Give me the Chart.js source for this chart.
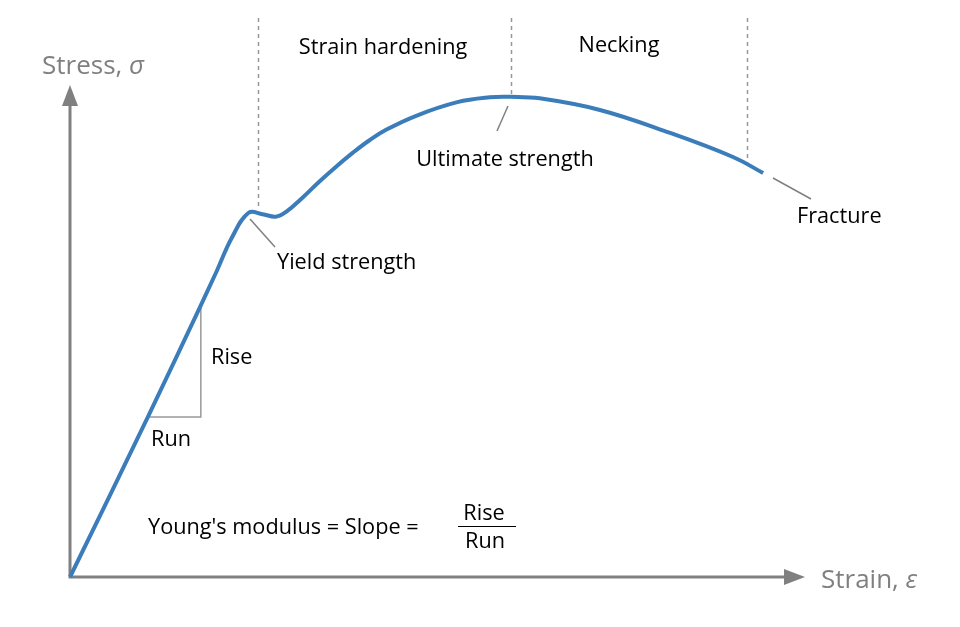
<!DOCTYPE html>
<html>
<head>
<meta charset="utf-8">
<script src="https://cdn.jsdelivr.net/npm/chart.js@4.4.1/dist/chart.umd.min.js"></script>
<style>
  html, body { margin: 0; padding: 0; background: #fff; }
  #wrap { width: 960px; height: 627px; }
</style>
</head>
<body>
<div id="wrap"><canvas id="chart"></canvas></div>
<script>
// strain / stress (arbitrary units, 0..100)
const strain = [0, 10.6, 17.7, 20.0, 22.0, 24.3, 26.2, 28.0, 29.4, 31.7, 33.9, 36.2, 38.5, 40.7, 43.0, 47.1, 52.7, 57.1, 59.9, 63.9, 72.1, 81.2, 90.2, 94.3];
const stress = [0, 33.0, 55.7, 63.2, 69.9, 75.1, 74.8, 74.3, 75.3, 78.3, 81.5, 84.6, 87.5, 90.0, 92.2, 95.1, 97.9, 98.9, 99.0, 98.7, 96.3, 91.8, 86.6, 83.3];

// region boundaries on the strain axis and where each dashed line stops
const boundaries = [25.6, 60.0, 92.1];
const boundaryTops = [76.0, 99.5, 85.0];
// rise / run triangle
const runStrain = [10.8, 17.8];
const riseStress = [33.0, 55.5];

const gray = "#808080";
const font = "'Open Sans', 'Noto Sans', sans-serif";

const overlay = {
  id: "overlay",
  beforeDatasetsDraw(chart) {
    const { ctx, scales: { x, y } } = chart;
    ctx.save();

    // axes with arrows
    const x0 = x.getPixelForValue(0), y0 = y.getPixelForValue(0);
    const xEnd = x.getPixelForValue(100), yEnd = y.getPixelForValue(100) - 7;
    ctx.strokeStyle = gray;
    ctx.fillStyle = gray;
    ctx.lineWidth = 3;
    ctx.beginPath();
    ctx.moveTo(x0, yEnd + 18);
    ctx.lineTo(x0, y0);
    ctx.lineTo(xEnd - 16, y0);
    ctx.stroke();
    ctx.beginPath();
    ctx.moveTo(x0, yEnd);
    ctx.lineTo(x0 - 8, yEnd + 21);
    ctx.lineTo(x0 + 8, yEnd + 21);
    ctx.closePath();
    ctx.fill();
    ctx.beginPath();
    ctx.moveTo(xEnd, y0);
    ctx.lineTo(xEnd - 21, y0 - 8);
    ctx.lineTo(xEnd - 21, y0 + 8);
    ctx.closePath();
    ctx.fill();

    // dashed region boundaries
    ctx.strokeStyle = "#999";
    ctx.lineWidth = 1.5;
    ctx.setLineDash([4, 4]);
    boundaries.forEach((b, i) => {
      const px = Math.round(x.getPixelForValue(b)) + 0.5;
      ctx.beginPath();
      ctx.moveTo(px, 18);
      ctx.lineTo(px, y.getPixelForValue(boundaryTops[i]));
      ctx.stroke();
    });
    ctx.setLineDash([]);

    // rise / run triangle
    ctx.strokeStyle = "#999";
    ctx.lineWidth = 1.5;
    ctx.beginPath();
    ctx.moveTo(x.getPixelForValue(runStrain[0]), y.getPixelForValue(riseStress[0]));
    ctx.lineTo(x.getPixelForValue(runStrain[1]), y.getPixelForValue(riseStress[0]));
    ctx.lineTo(x.getPixelForValue(runStrain[1]), y.getPixelForValue(riseStress[1]));
    ctx.stroke();

    // leader lines
    ctx.strokeStyle = gray;
    ctx.lineWidth = 1.5;
    [[250, 219, 275, 247], [508, 106, 497, 131], [773, 178, 811, 199]].forEach(l => {
      ctx.beginPath();
      ctx.moveTo(l[0], l[1]);
      ctx.lineTo(l[2], l[3]);
      ctx.stroke();
    });
    ctx.restore();
  },
  afterDraw(chart) {
    const { ctx } = chart;
    ctx.save();
    ctx.textBaseline = "middle";

    // axis titles
    ctx.fillStyle = gray;
    ctx.font = "26px " + font;
    ctx.textAlign = "left";
    ctx.fillText("Stress, ", 42, 66.5);
    let w = ctx.measureText("Stress, ").width;
    ctx.font = "italic 26px " + font;
    ctx.fillText("σ", 42 + w, 66.5);
    ctx.font = "26px " + font;
    ctx.fillText("Strain, ", 821, 580.5);
    w = ctx.measureText("Strain, ").width;
    ctx.font = "italic 26px " + font;
    ctx.fillText("ε", 821 + w, 580.5);

    // annotations
    ctx.fillStyle = "#000";
    ctx.font = "21.7px " + font;
    ctx.textAlign = "center";
    ctx.fillText("Strain hardening", 383, 47.5);
    ctx.fillText("Necking", 619, 45.5);
    ctx.fillText("Ultimate strength", 505, 159.5);
    ctx.fillText("Rise", 484, 513.5);
    ctx.fillText("Run", 485, 541.5);
    ctx.textAlign = "left";
    ctx.fillText("Yield strength", 277, 262.5);
    ctx.fillText("Fracture", 797, 216.5);
    ctx.fillText("Rise", 211, 357.5);
    ctx.fillText("Run", 151, 439.5);
    ctx.fillText("Young's modulus = Slope =", 148, 527.5);

    ctx.strokeStyle = "#000";
    ctx.lineWidth = 1;
    ctx.beginPath();
    ctx.moveTo(458, 526.5);
    ctx.lineTo(516, 526.5);
    ctx.stroke();
    ctx.restore();
  }
};

new Chart(document.getElementById("chart"), {
  type: "line",
  data: {
    datasets: [{
      data: strain.map((s, i) => ({ x: s, y: stress[i] })),
      borderColor: "#3b7dbb",
      borderWidth: 4,
      pointRadius: 0,
      fill: false,
      tension: 0.4,
      clip: false
    }]
  },
  options: {
    responsive: true,
    maintainAspectRatio: false,
    animation: false,
    layout: { padding: { left: 70, right: 155, top: 92, bottom: 50 } },
    scales: {
      x: { type: "linear", min: 0, max: 100, display: false },
      y: { type: "linear", min: 0, max: 100, display: false }
    },
    plugins: {
      legend: { display: false },
      tooltip: { enabled: false }
    }
  },
  plugins: [overlay]
});
</script>
</body>
</html>
